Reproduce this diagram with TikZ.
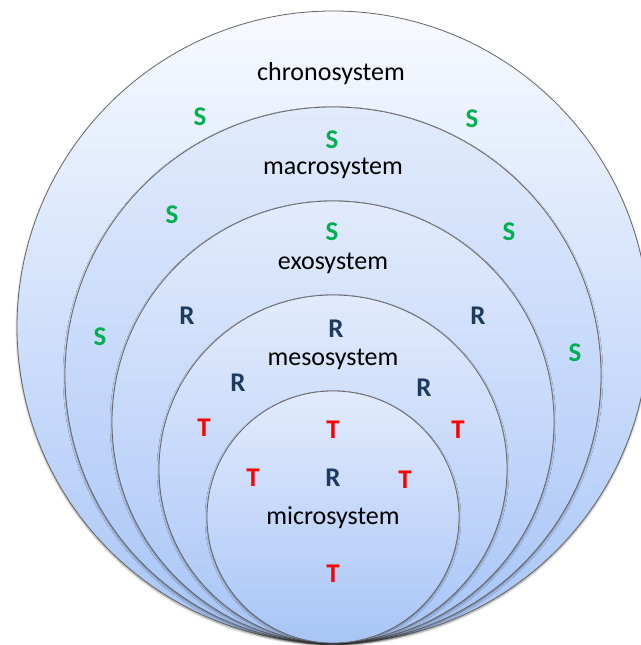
\documentclass[tikz,border=0pt]{standalone}
\usepackage{fontspec}
\setmainfont{Carlito}
\usetikzlibrary{shadows.blur}
\definecolor{ringgray}{HTML}{666666}
\definecolor{ringtop}{HTML}{E2EBFC}
\definecolor{outertop}{HTML}{F8FAFF}
\definecolor{ringbottom}{HTML}{A8C5F7}
\definecolor{sgreen}{HTML}{00B050}
\definecolor{rblue}{HTML}{1F3A60}
\definecolor{tred}{HTML}{FF0000}

\begin{document}
\begin{tikzpicture}[x=1pt, y=1pt,
        ring/.style={draw=ringgray, line width=0.8pt, top color=ringtop, bottom color=ringbottom,
            blur shadow={shadow xshift=0pt, shadow yshift=-1.5pt, shadow blur radius=2pt, shadow opacity=45}},
        syslabel/.style={font=\fontsize{26}{30}\selectfont, inner sep=0pt},
        letter/.style={font=\fontsize{27}{30}\selectfont\bfseries, inner sep=0pt},
        sfac/.style={letter, text=sgreen},
        rfac/.style={letter, text=rblue},
        tfac/.style={letter, text=tred}]
        \useasboundingbox (0, 0) rectangle (640, 645);

        % nested rings, all touching at the bottom
        \draw[ring, top color=outertop] (333, 318) circle (316pt);
        \draw[ring] (333, 270) circle (268pt);
        \draw[ring] (333, 223) circle (221pt);
        \draw[ring] (333, 176) circle (174pt);
        \draw[ring] (333, 128) circle (126pt);

        % system names
        \node[syslabel] (chrono) at (331, 571) {chronosystem};
        \node[syslabel] (macro) at (333, 477) {macrosystem};
        \node[syslabel] (exo) at (333, 382) {exosystem};
        \node[syslabel] (meso) at (333, 286) {mesosystem};
        \node[syslabel] (micro) at (333, 127) {microsystem};

        % S
        \node[sfac] (s1) at (200, 528) {S};
        \node[sfac] (s2) at (472, 526) {S};
        \node[sfac] (s3) at (332, 505) {S};
        \node[sfac] (s4) at (172, 430) {S};
        \node[sfac] (s5) at (332, 413) {S};
        \node[sfac] (s6) at (509, 413) {S};
        \node[sfac] (s7) at (100, 308) {S};
        \node[sfac] (s8) at (575, 292) {S};

        % R
        \node[rfac] (r1) at (187, 329) {R};
        \node[rfac] (r2) at (336, 316) {R};
        \node[rfac] (r3) at (478, 329) {R};
        \node[rfac] (r4) at (238, 262) {R};
        \node[rfac] (r5) at (424, 257) {R};
        \node[rfac] (r6) at (333, 167) {R};

        % T
        \node[tfac] (t1) at (204, 217) {T};
        \node[tfac] (t2) at (333, 215) {T};
        \node[tfac] (t3) at (458, 215) {T};
        \node[tfac] (t4) at (253, 167) {T};
        \node[tfac] (t5) at (405, 165) {T};
        \node[tfac] (t6) at (333, 71) {T};
    \end{tikzpicture}
\end{document}
